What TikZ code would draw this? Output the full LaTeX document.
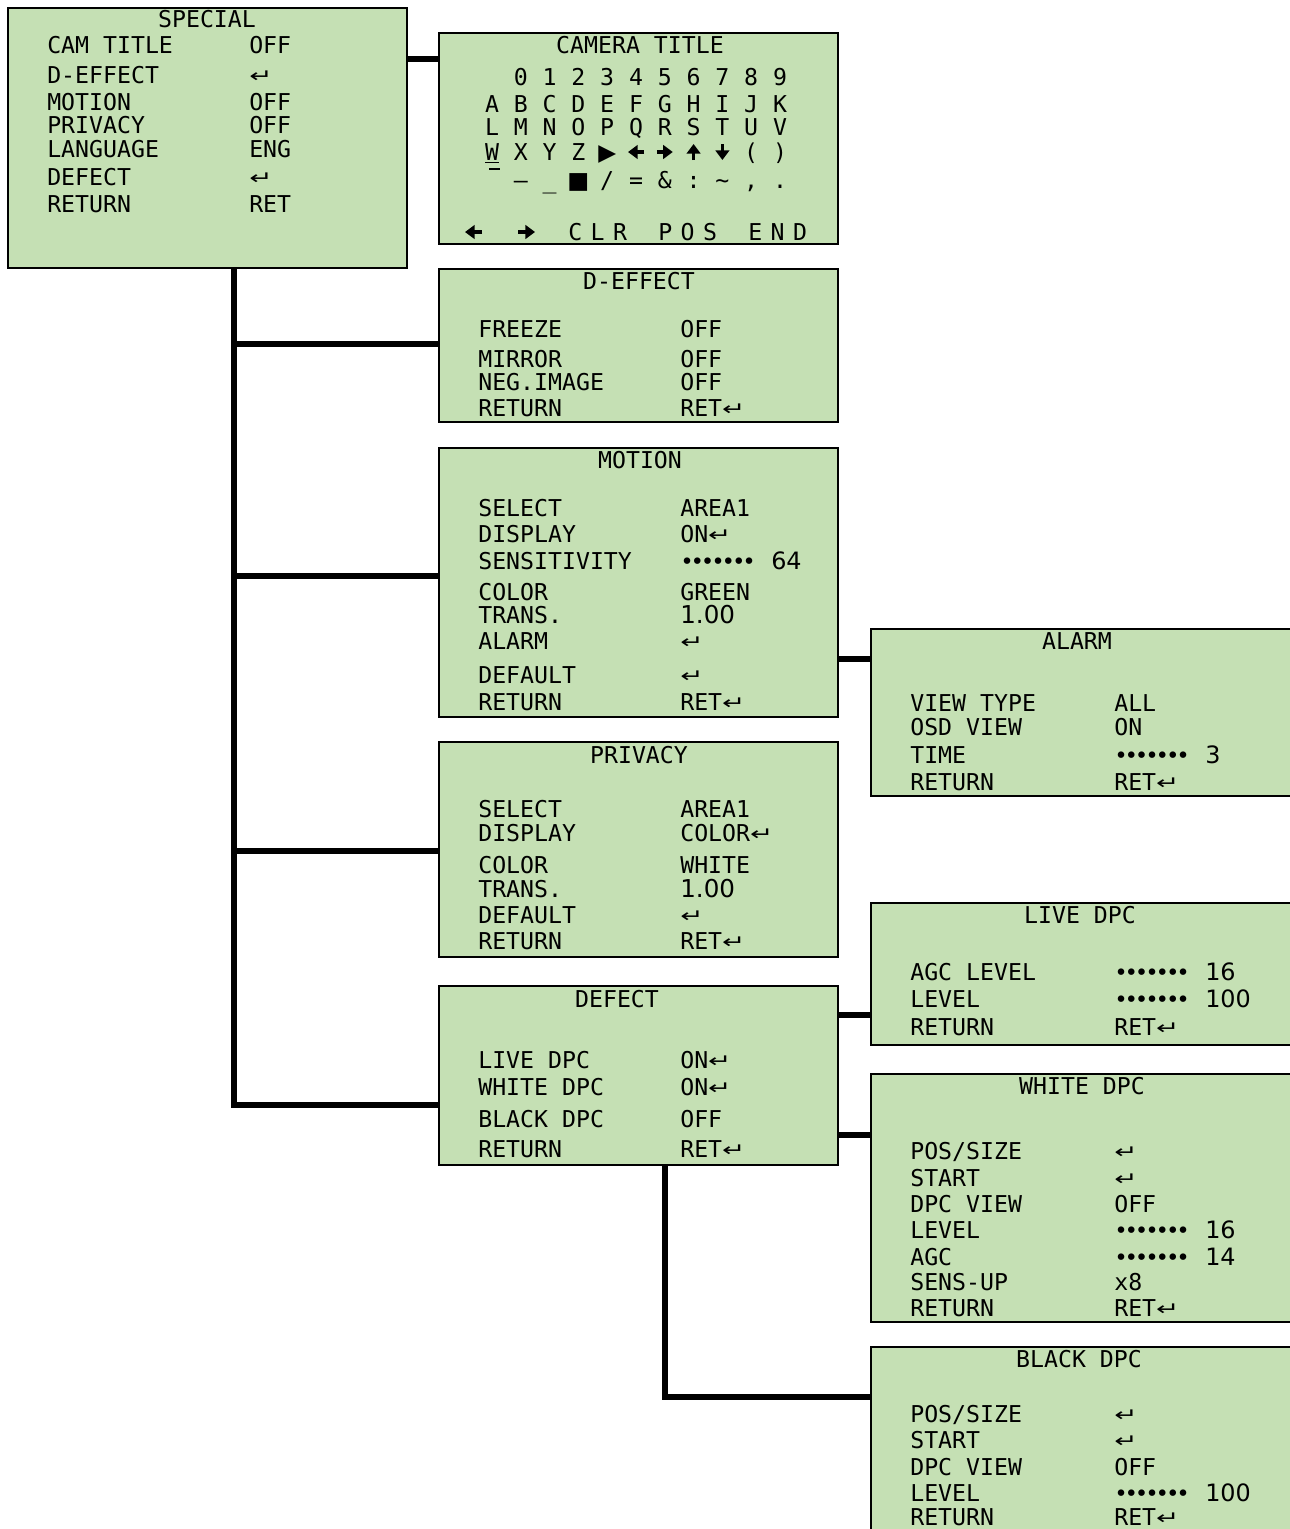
\documentclass[tikz,border=0pt]{standalone}
\usepackage{fontspec}
\usepackage{graphicx}
\usetikzlibrary{arrows.meta,fit}
\newfontfamily\osdfont{DejaVu Sans Mono}
\newfontfamily\osdsym{DejaVu Sans}
\definecolor{osdgreen}{HTML}{C5E0B4}
\newcommand\osd{\osdfont\fontsize{16.5}{19}\selectfont}
\newcommand\osdspread{\osd\spaceskip=2.1mm\relax}
\newcommand\retsym{{\osdsym\fontsize{12}{12}\selectfont\raisebox{0.3pt}{\scalebox{1.65}[1.1]{↵}}}}
\newcommand\dotone{•\kern-0.8mm}
\newcommand\lvlbar[1]{\makebox[22.75mm][l]{\fontsize{16}{12}\selectfont
  \dotone\dotone\dotone\dotone\dotone\dotone\dotone}{\osdsym\fontsize{17}{18}\selectfont #1}}
\newcommand\bignum[1]{{\osdsym\fontsize{17.5}{19}\selectfont #1}}
\tikzset{
  menu/.style={draw=black, line width=0.35mm, fill=osdgreen, inner sep=0pt},
  item/.style={anchor=base west, inner sep=0pt, font=\osd},
  head/.style={anchor=base, inner sep=0pt, font=\osd},
  kb/.style={anchor=base, inner sep=0pt, font=\osd},
  spread/.style={item, font=\osdspread},
  kbarrow/.style={line width=0.8mm, -{Triangle[length=2.4mm, width=3.4mm]}},
  link/.style={line width=1.4mm},
}
\begin{document}
\begin{tikzpicture}[x=0.25mm, y=-0.25mm]
  \useasboundingbox (0,0) rectangle (1289,1529);

  % menu screens
  \node[menu, fit={(8,8) (407,268)}] (special) {};
  \node[menu, fit={(439,33) (838,244)}] (cam) {};
  \node[menu, fit={(439,269) (838,422)}] (deffect) {};
  \node[menu, fit={(439,448) (838,717)}] (motion) {};
  \node[menu, fit={(439,742) (838,957)}] (privacy) {};
  \node[menu, fit={(439,986) (838,1165)}] (defect) {};
  \node[menu, fit={(871,629) (1296,796)}] (alarm) {};
  \node[menu, fit={(871,903) (1296,1045)}] (live) {};
  \node[menu, fit={(871,1074) (1296,1322)}] (white) {};
  \node[menu, fit={(871,1347) (1296,1540)}] (black) {};

  % connectors
  \coordinate (tap) at (234,0);
  \draw[link] (special.east |- 0,59) -- (cam.west |- 0,59);
  \draw[link] (special.south -| tap) |- (defect.west |- 0,1105);
  \foreach \n/\y in {deffect/344, motion/576, privacy/851}
    \draw[link] (tap |- 0,\y) -- (\n.west |- 0,\y);
  \draw[link] (motion.east |- 0,659) -- (alarm.west |- 0,659);
  \draw[link] (defect.east |- 0,1015) -- (live.west |- 0,1015);
  \draw[link] (defect.east |- 0,1135) -- (white.west |- 0,1135);
  \draw[link] (defect.south -| 665,0) |- (black.west |- 0,1397);

  % SPECIAL
  \node[head] (special-t) at (207,27) {SPECIAL};
  \foreach \lab/\val/\y [count=\i] in {CAM TITLE/OFF/53, D-EFFECT/\retsym/83, MOTION/OFF/110,
      PRIVACY/OFF/133, LANGUAGE/ENG/157, DEFECT/\retsym/185, RETURN/RET/212}
  {
    \node[item] (sp-l\i) at (47,\y) {\lab};
    \node[item] (sp-v\i) at (249,\y) {\val};
  }

  % CAMERA TITLE
  \node[head] (cam-t) at (640,53) {CAMERA TITLE};
  \foreach \ch [count=\c] in {0,1,2,3,4,5,6,7,8,9}
    \node[kb] (k0-\c) at (492+28.8*\c,85) {\ch};
  \foreach \ch [count=\c from 0] in {A,B,C,D,E,F,G,H,I,J,K}
    \node[kb] (k1-\c) at (492+28.8*\c,112) {\ch};
  \foreach \ch [count=\c from 0] in {L,M,N,O,P,Q,R,S,T,U,V}
    \node[kb] (k2-\c) at (492+28.8*\c,135) {\ch};
  \foreach \ch/\c in {\underline{W}/0, X/1, Y/2, Z/3, {\osdsym ▶}/4, {(}/9, {)}/10}
    \node[kb] (k3-\c) at (492+28.8*\c,160) {\ch};
  \foreach \c/\dx/\dy in {5/-1/0, 6/1/0, 7/0/-1, 8/0/1}
    \draw[kbarrow] (492+28.8*\c-8*\dx,152-8*\dy) -- (492+28.8*\c+8*\dx,152+8*\dy);
  \draw[line width=0.5mm] (489,169) -- (500,169);
  \foreach \ch [count=\c] in {–, \_, {\osdsym ■}, {/}, =, \&, :, \textasciitilde, {,}, .}
    \node[kb] (k4-\c) at (492+28.8*\c,188) {\ch};
  \draw[kbarrow] (482,232) -- (465,232);
  \draw[kbarrow] (518,232) -- (535,232);
  \node[spread] (clr) at (568,240) {C L R};
  \node[spread] (pos) at (658,240) {P O S};
  \node[spread] (end) at (748,240) {E N D};

  % D-EFFECT
  \node[head] (deffect-t) at (639,289) {D-EFFECT};
  \foreach \lab/\val/\y [count=\i] in {FREEZE/OFF/337, MIRROR/OFF/367, NEG.IMAGE/OFF/390,
      RETURN/RET\retsym/416}
  {
    \node[item] (de-l\i) at (478,\y) {\lab};
    \node[item] (de-v\i) at (680,\y) {\val};
  }

  % MOTION
  \node[head] (motion-t) at (640,468) {MOTION};
  \foreach \lab/\val/\y [count=\i] in {SELECT/AREA1/516, DISPLAY/ON\retsym/542,
      SENSITIVITY/{\lvlbar{64}}/569, COLOR/GREEN/600, TRANS./{\bignum{1.00}}/623,
      ALARM/\retsym/649, DEFAULT/\retsym/683, RETURN/RET\retsym/710}
  {
    \node[item] (mo-l\i) at (478,\y) {\lab};
    \node[item] (mo-v\i) at (680,\y) {\val};
  }

  % PRIVACY
  \node[head] (privacy-t) at (639,763) {PRIVACY};
  \foreach \lab/\val/\y [count=\i] in {SELECT/AREA1/817, DISPLAY/COLOR\retsym/841,
      COLOR/WHITE/873, TRANS./{\bignum{1.00}}/897, DEFAULT/\retsym/923, RETURN/RET\retsym/949}
  {
    \node[item] (pr-l\i) at (478,\y) {\lab};
    \node[item] (pr-v\i) at (680,\y) {\val};
  }

  % DEFECT
  \node[head] (defect-t) at (617,1007) {DEFECT};
  \foreach \lab/\val/\y [count=\i] in {LIVE DPC/ON\retsym/1068, WHITE DPC/ON\retsym/1095,
      BLACK DPC/OFF/1127, RETURN/RET\retsym/1157}
  {
    \node[item] (df-l\i) at (478,\y) {\lab};
    \node[item] (df-v\i) at (680,\y) {\val};
  }

  % ALARM
  \node[head] (alarm-t) at (1077,649) {ALARM};
  \foreach \lab/\val/\y [count=\i] in {VIEW TYPE/ALL/711, OSD VIEW/ON/735,
      TIME/{\lvlbar{3}}/763, RETURN/RET\retsym/790}
  {
    \node[item] (al-l\i) at (910,\y) {\lab};
    \node[item] (al-v\i) at (1114,\y) {\val};
  }

  % LIVE DPC
  \node[head] (live-t) at (1080,923) {LIVE DPC};
  \foreach \lab/\val/\y [count=\i] in {AGC LEVEL/{\lvlbar{16}}/980, LEVEL/{\lvlbar{100}}/1007,
      RETURN/RET\retsym/1035}
  {
    \node[item] (lv-l\i) at (910,\y) {\lab};
    \node[item] (lv-v\i) at (1114,\y) {\val};
  }

  % WHITE DPC
  \node[head] (white-t) at (1082,1094) {WHITE DPC};
  \foreach \lab/\val/\y [count=\i] in {{POS/SIZE}/\retsym/1159, START/\retsym/1186,
      DPC VIEW/OFF/1212, LEVEL/{\lvlbar{16}}/1238, AGC/{\lvlbar{14}}/1265, SENS-UP/x8/1290,
      RETURN/RET\retsym/1316}
  {
    \node[item] (wh-l\i) at (910,\y) {\lab};
    \node[item] (wh-v\i) at (1114,\y) {\val};
  }

  % BLACK DPC
  \node[head] (black-t) at (1079,1367) {BLACK DPC};
  \foreach \lab/\val/\y [count=\i] in {{POS/SIZE}/\retsym/1422, START/\retsym/1448,
      DPC VIEW/OFF/1475, LEVEL/{\lvlbar{100}}/1501, RETURN/RET\retsym/1525}
  {
    \node[item] (bk-l\i) at (910,\y) {\lab};
    \node[item] (bk-v\i) at (1114,\y) {\val};
  }
\end{tikzpicture}
\end{document}
